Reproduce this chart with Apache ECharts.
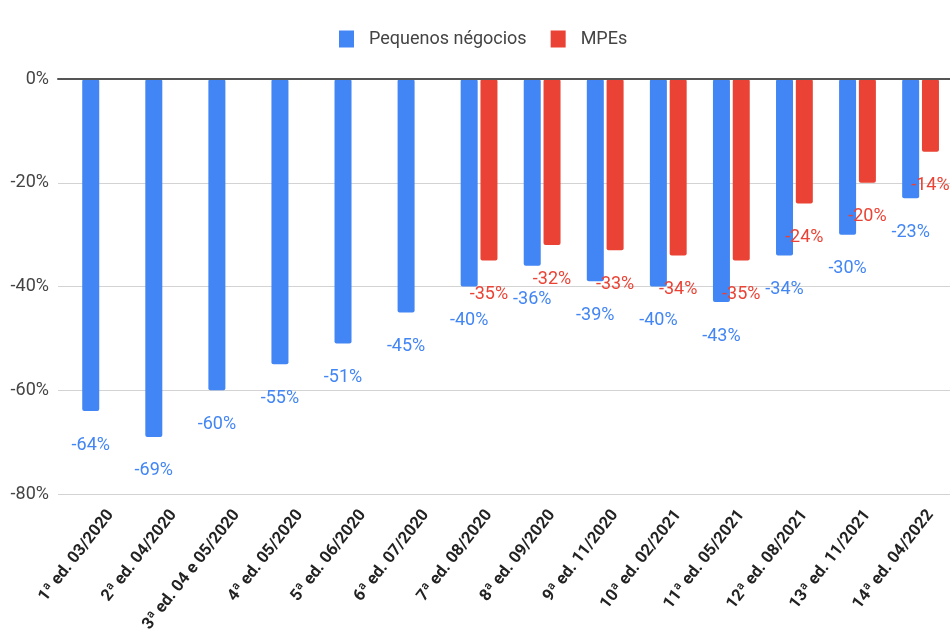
<!DOCTYPE html>
<html>
<head>
<meta charset="utf-8">
<script src="https://cdn.jsdelivr.net/npm/echarts@6/dist/echarts.min.js"></script>
<style>html,body{margin:0;padding:0;background:#fff;}#c{width:950px;height:631px;}</style>
</head>
<body>
<div id="c"></div>
<script>
const categories = ['1ª ed. 03/2020', '2ª ed. 04/2020', '3ª ed. 04 e 05/2020', '4ª ed. 05/2020', '5ª ed. 06/2020', '6ª ed. 07/2020', '7ª ed. 08/2020', '8ª ed. 09/2020', '9ª ed. 11/2020', '10ª ed. 02/2021', '11ª ed. 05/2021', '12ª ed. 08/2021', '13ª ed. 11/2021', '14ª ed. 04/2022'];
const seriesNames = ['Pequenos négocios', 'MPEs'];
const pequenosNegocios = [-64, -69, -60, -55, -51, -45, -40, -36, -39, -40, -43, -34, -30, -23];
const mpes = [null, null, null, null, null, null, -35, -32, -33, -34, -35, -24, -20, -14];
const yTicks = [-80, -60, -40, -20, 0];
const yTickLabels = ['-80%', '-60%', '-40%', '-20%', '0%'];

const BLUE = '#4285f4', RED = '#ea4335';
const font = 'Roboto, "Liberation Sans", Arial, sans-serif';
const gTop = 79, gBottom = 137;

const chart = echarts.init(document.getElementById('c'), null, {renderer: 'canvas'});
const labelFmt = p => p.value + '%';
chart.setOption({
  animation: false,
  backgroundColor: '#fff',
  legend: {
    data: seriesNames, left: 334, top: 25, itemWidth: 15, itemHeight: 17, itemGap: 24, icon: 'rect',
    textStyle: {fontFamily: font, fontSize: 18, color: '#444', padding: [0, 0, 0, 10]}
  },
  grid: [
    {left: 59.2, width: 883, top: gTop, bottom: gBottom, outerBoundsMode: 'none'},
    {left: 79, width: 883, top: gTop, bottom: gBottom, outerBoundsMode: 'none'},
    {left: 58, width: 892, top: gTop, bottom: gBottom, outerBoundsMode: 'none'}
  ],
  xAxis: [
    {type: 'category', gridIndex: 0, data: categories, show: false},
    {type: 'category', gridIndex: 1, data: categories, axisLine: {show: false}, axisTick: {show: false},
      axisLabel: {interval: 0, rotate: 52, margin: 18, fontFamily: font, fontWeight: 'bold', fontSize: 16.5, color: '#222'}},
    {type: 'category', gridIndex: 2, data: categories, z: 5,
      axisLine: {onZero: true, lineStyle: {color: '#555', width: 2}}, axisTick: {show: false}, axisLabel: {show: false}}
  ],
  yAxis: [
    {type: 'value', gridIndex: 0, min: yTicks[0], max: yTicks[yTicks.length - 1], interval: 20, show: false},
    {type: 'value', gridIndex: 1, min: yTicks[0], max: yTicks[yTicks.length - 1], interval: 20, show: false},
    {type: 'value', gridIndex: 2, min: yTicks[0], max: yTicks[yTicks.length - 1], interval: 20,
      axisLine: {show: false}, axisTick: {show: false},
      splitLine: {lineStyle: {color: '#d3d3d3', width: 1}},
      axisLabel: {margin: 9, fontFamily: font, fontSize: 18, color: '#444',
        formatter: v => yTickLabels[yTicks.indexOf(v)]}}
  ],
  series: [
    {name: seriesNames[0], type: 'bar', xAxisIndex: 0, yAxisIndex: 0, data: pequenosNegocios, barWidth: 17,
      itemStyle: {color: BLUE, borderRadius: 2},
      label: {show: true, position: 'bottom', distance: 25, formatter: labelFmt, fontFamily: font, fontSize: 18, color: BLUE}},
    {name: seriesNames[1], type: 'bar', xAxisIndex: 1, yAxisIndex: 1, data: mpes, barWidth: 17,
      itemStyle: {color: RED, borderRadius: 2},
      label: {show: true, position: 'bottom', distance: 25, formatter: labelFmt, fontFamily: font, fontSize: 18, color: RED}}
  ]
});
</script>
</body>
</html>
